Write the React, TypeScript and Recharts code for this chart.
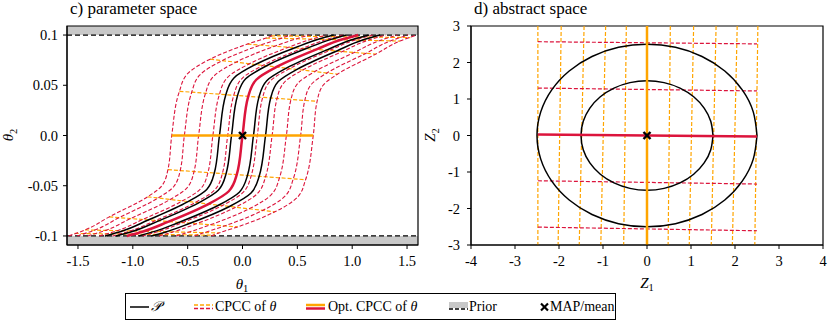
import React from 'react';
import { ComposedChart, Line, Scatter, XAxis, YAxis, ReferenceArea, ReferenceLine } from 'recharts';

type Pt = [number, number];

const RED = '#dc143c';
const ORANGE = '#ffa500';
const FONT = "'Liberation Serif', 'DejaVu Serif', serif";

// ---- c) parameter space ----
const thetaXTicks = [-1.5, -1, -0.5, 0, 0.5, 1, 1.5];
const thetaYTicks = [-0.1, -0.05, 0, 0.05, 0.1];

// CPCC of theta (red dashed), bottom to top
const cpccTheta: Pt[][] = [
  [[-1.585, -0.1], [-1.435, -0.094], [-1.215, -0.081], [-0.865, -0.061], [-0.735, -0.05], [-0.68, -0.034], [-0.645, 0], [-0.575, 0.044], [-0.505, 0.061], [-0.295, 0.076], [0.045, 0.091], [0.215, 0.097], [0.285, 0.1]],
  [[-1.508, -0.1], [-1.352, -0.0943], [-1.127, -0.0819], [-0.771, -0.0623], [-0.628, -0.051], [-0.568, -0.0349], [-0.53, 0], [-0.463, 0.0431], [-0.391, 0.06], [-0.182, 0.0747], [0.166, 0.0901], [0.35, 0.0967], [0.44, 0.1]],
  [[-1.412, -0.1], [-1.253, -0.0946], [-1.024, -0.0829], [-0.663, -0.0639], [-0.506, -0.0521], [-0.442, -0.0359], [-0.4, 0], [-0.337, 0.0421], [-0.263, 0.0589], [-0.056, 0.0732], [0.298, 0.0891], [0.496, 0.0964], [0.606, 0.1]],
  [[-1.306, -0.1], [-1.146, -0.0949], [-0.916, -0.0839], [-0.553, -0.0654], [-0.383, -0.0532], [-0.315, -0.0369], [-0.27, 0], [-0.21, 0.0411], [-0.136, 0.0578], [0.067, 0.0716], [0.426, 0.0881], [0.636, 0.0961], [0.762, 0.1]],
  [[-1.186, -0.1], [-1.029, -0.0952], [-0.8, -0.085], [-0.435, -0.0669], [-0.254, -0.0543], [-0.184, -0.038], [-0.135, 0], [-0.079, 0.0401], [-0.005, 0.0567], [0.192, 0.0701], [0.555, 0.0871], [0.774, 0.0958], [0.914, 0.1]],
  [[-0.914, -0.1], [-0.774, -0.0958], [-0.555, -0.0871], [-0.192, -0.0701], [0.005, -0.0567], [0.079, -0.0401], [0.135, 0], [0.184, 0.038], [0.254, 0.0543], [0.435, 0.0669], [0.8, 0.085], [1.029, 0.0952], [1.186, 0.1]],
  [[-0.762, -0.1], [-0.636, -0.0961], [-0.426, -0.0881], [-0.067, -0.0716], [0.136, -0.0578], [0.21, -0.0411], [0.27, 0], [0.315, 0.0369], [0.383, 0.0532], [0.553, 0.0654], [0.916, 0.0839], [1.146, 0.0949], [1.306, 0.1]],
  [[-0.606, -0.1], [-0.496, -0.0964], [-0.298, -0.0891], [0.056, -0.0732], [0.263, -0.0589], [0.337, -0.0421], [0.4, 0], [0.442, 0.0359], [0.506, 0.0521], [0.663, 0.0639], [1.024, 0.0829], [1.253, 0.0946], [1.412, 0.1]],
  [[-0.44, -0.1], [-0.35, -0.0967], [-0.166, -0.0901], [0.182, -0.0747], [0.391, -0.06], [0.463, -0.0431], [0.53, 0], [0.568, 0.0349], [0.628, 0.051], [0.771, 0.0623], [1.127, 0.0819], [1.352, 0.0943], [1.508, 0.1]],
  [[-0.285, -0.1], [-0.215, -0.097], [-0.045, -0.091], [0.295, -0.076], [0.505, -0.061], [0.575, -0.044], [0.645, 0], [0.68, 0.034], [0.735, 0.05], [0.865, 0.061], [1.215, 0.081], [1.435, 0.094], [1.585, 0.1]],
];

// posterior contours P (black)
const pTheta: Pt[][] = [
  [[-1.254, -0.1], [-1.095, -0.095], [-0.865, -0.0844], [-0.501, -0.0661], [-0.326, -0.0537], [-0.257, -0.0374], [-0.21, 0], [-0.152, 0.0406], [-0.078, 0.0573], [0.123, 0.0709], [0.484, 0.0876], [0.698, 0.096], [0.831, 0.1]],
  [[-1.153, -0.1], [-0.998, -0.0953], [-0.769, -0.0852], [-0.404, -0.0673], [-0.221, -0.0546], [-0.15, -0.0382], [-0.1, 0], [-0.045, 0.0398], [0.029, 0.0564], [0.224, 0.0697], [0.588, 0.0868], [0.809, 0.0957], [0.951, 0.1]],
  [[-0.951, -0.1], [-0.809, -0.0957], [-0.588, -0.0868], [-0.224, -0.0697], [-0.029, -0.0564], [0.045, -0.0398], [0.1, 0], [0.15, 0.0382], [0.221, 0.0546], [0.404, 0.0673], [0.769, 0.0852], [0.998, 0.0953], [1.153, 0.1]],
  [[-0.831, -0.1], [-0.698, -0.096], [-0.484, -0.0876], [-0.123, -0.0709], [0.078, -0.0573], [0.152, -0.0406], [0.21, 0], [0.257, 0.0374], [0.326, 0.0537], [0.501, 0.0661], [0.865, 0.0844], [1.095, 0.095], [1.254, 0.1]],
];

// optimal CPCC (red solid)
const optTheta: Pt[] = [
  [-1.055, -0.1], [-0.905, -0.0955], [-0.68, -0.086], [-0.315, -0.0685], [-0.125, -0.0555], [-0.0525, -0.039], [0, 0],
  [0.0525, 0.039], [0.125, 0.0555], [0.315, 0.0685], [0.68, 0.086], [0.905, 0.0955], [1.055, 0.1],
];

// CPCC levels across (orange dashed)
const levelsTheta: Pt[][] = [
  [[-0.575, 0.044], [0.68, 0.034]],
  [[-0.295, 0.076], [0.865, 0.061]],
  [[0.045, 0.091], [1.215, 0.081]],
  [[0.215, 0.097], [1.435, 0.094]],
  [[0.26, 0.0992], [1.53, 0.0975]],
  [[-0.68, -0.034], [0.575, -0.044]],
  [[-0.865, -0.061], [0.295, -0.076]],
  [[-1.215, -0.081], [-0.045, -0.091]],
  [[-1.435, -0.094], [-0.215, -0.097]],
  [[-1.53, -0.0975], [-0.26, -0.0992]],
];
const optLevelTheta: Pt[] = [[-0.645, 0], [0.645, 0]];

// ---- d) abstract space ----
const zXTicks = [-4, -3, -2, -1, 0, 1, 2, 3, 4];
const zYTicks = [-3, -2, -1, 0, 1, 2, 3];

// orange dashed Z1 = const (top, bottom)
const z1Lines: Pt[][] = [
  [[-2.48, 3], [-2.48, -3]],
  [[-1.95, 3], [-2.02, -3]],
  [[-1.43, 3], [-1.54, -3]],
  [[-0.94, 3], [-1.05, -3]],
  [[-0.47, 3], [-0.53, -3]],
  [[0.53, 3], [0.48, -3]],
  [[1.06, 3], [0.96, -3]],
  [[1.57, 3], [1.46, -3]],
  [[2.05, 3], [1.94, -3]],
  [[2.52, 3], [2.45, -3]],
];
// red dashed Z2 = const (left, right)
const z2Lines: Pt[][] = [
  [[-2.48, 2.57], [2.5, 2.51]],
  [[-2.48, 1.3], [2.5, 1.22]],
  [[-2.48, -1.24], [2.5, -1.33]],
  [[-2.48, -2.51], [2.5, -2.61]],
];
const optZ1: Pt[] = [[0, 3], [0, -3]];
const optZ2: Pt[] = [[-2.48, 0.03], [2.5, -0.03]];

const circleOuter: Pt[] = [
  [2.5, 0], [2.415, 0.647], [2.165, 1.25], [1.768, 1.768], [1.25, 2.165], [0.647, 2.415], [0, 2.5],
  [-0.647, 2.415], [-1.25, 2.165], [-1.768, 1.768], [-2.165, 1.25], [-2.415, 0.647], [-2.5, 0],
  [-2.415, -0.647], [-2.165, -1.25], [-1.768, -1.768], [-1.25, -2.165], [-0.647, -2.415], [0, -2.5],
  [0.647, -2.415], [1.25, -2.165], [1.768, -1.768], [2.165, -1.25], [2.415, -0.647], [2.5, 0],
];
const circleInner: Pt[] = [
  [1.5, 0], [1.449, 0.388], [1.299, 0.75], [1.061, 1.061], [0.75, 1.299], [0.388, 1.449], [0, 1.5],
  [-0.388, 1.449], [-0.75, 1.299], [-1.061, 1.061], [-1.299, 0.75], [-1.449, 0.388], [-1.5, 0],
  [-1.449, -0.388], [-1.299, -0.75], [-1.061, -1.061], [-0.75, -1.299], [-0.388, -1.449], [0, -1.5],
  [0.388, -1.449], [0.75, -1.299], [1.061, -1.061], [1.299, -0.75], [1.449, -0.388], [1.5, 0],
];
const mapPoint: Pt = [0, 0];

const rows = (pts: Pt[]) => pts.map(([x, y]) => ({ x, y }));

// tick text drawn by hand so the serif font is sure to apply
const makeTick = (fmt: (v: number) => string, axis: 'x' | 'y') => (props: any) => {
  const { x, y, payload } = props;
  if (axis === 'x') {
    return (
      <text x={x} y={y + 15} textAnchor="middle" fontSize={14.5} fontFamily={FONT} fill="#000">
        {fmt(payload.value)}
      </text>
    );
  }
  return (
    <text x={x} y={y + 5} textAnchor="end" fontSize={14.5} fontFamily={FONT} fill="#000">
      {fmt(payload.value)}
    </text>
  );
};

const Cross = (props: any) => {
  const { cx, cy } = props;
  const s = 3.5;
  return (
    <g>
      <line x1={cx - s} y1={cy - s} x2={cx + s} y2={cy + s} stroke="#000" strokeWidth={2.4} />
      <line x1={cx - s} y1={cy + s} x2={cx + s} y2={cy - s} stroke="#000" strokeWidth={2.4} />
    </g>
  );
};

function series(pts: Pt[], key: string, stroke: string, width: number, dash?: string, type: any = 'linear') {
  return (
    <Line
      key={key}
      data={rows(pts)}
      dataKey="y"
      type={type}
      stroke={stroke}
      strokeWidth={width}
      strokeDasharray={dash}
      dot={false}
      activeDot={false}
      isAnimationActive={false}
      legendType="none"
    />
  );
}

const fmtThetaX = (v: number) => v.toFixed(1);
const fmtThetaY = (v: number) => (v === 0 ? '0.0' : Math.abs(v) > 0.07 ? v.toFixed(1) : v.toFixed(2));
const fmtInt = (v: number) => String(v);

function ParameterSpace() {
  return (
    <ComposedChart width={420} height={300} margin={{ top: 26, right: 2, bottom: 25, left: 0 }}>
      <XAxis type="number" dataKey="x" domain={[-1.6, 1.6]} ticks={thetaXTicks}
        allowDataOverflow interval={0} tick={makeTick(fmtThetaX, 'x')} tickSize={4} tickMargin={2} stroke="#000" height={30} />
      <YAxis type="number" domain={[-0.109, 0.109]} ticks={thetaYTicks}
        allowDataOverflow interval={0} tick={makeTick(fmtThetaY, 'y')} tickSize={4} tickMargin={5} stroke="#000" width={67} />
      <ReferenceArea x1={-1.6} x2={1.6} y1={0.1} y2={0.109} fill="#c8c8c8" fillOpacity={1} stroke="none" />
      <ReferenceArea x1={-1.6} x2={1.6} y1={-0.109} y2={-0.1} fill="#c8c8c8" fillOpacity={1} stroke="none" />
      <ReferenceLine y={0.1} stroke="#000" strokeWidth={1.3} strokeDasharray="5 3" />
      <ReferenceLine y={-0.1} stroke="#000" strokeWidth={1.3} strokeDasharray="5 3" />
      {levelsTheta.map((p, i) => series(p, 'lv' + i, ORANGE, 1.2, '4 2'))}
      {cpccTheta.map((p, i) => series(p, 'cp' + i, RED, 1.1, '4 2', 'monotoneY'))}
      {pTheta.map((p, i) => series(p, 'p' + i, '#000', 1.5, undefined, 'monotoneY'))}
      {series(optLevelTheta, 'optlv', ORANGE, 2.5)}
      {series(optTheta, 'opt', RED, 2.5, undefined, 'monotoneY')}
      <Scatter data={rows([mapPoint])} dataKey="y" shape={Cross} isAnimationActive={false} legendType="none" />
      <ReferenceArea x1={-1.6} x2={1.6} y1={-0.109} y2={0.109} fill="none" stroke="#000" strokeWidth={1.2} />
    </ComposedChart>
  );
}

function AbstractSpace() {
  return (
    <ComposedChart width={411} height={300} margin={{ top: 26, right: 8, bottom: 25, left: 0 }}>
      <XAxis type="number" dataKey="x" domain={[-4, 4]} ticks={zXTicks} allowDataOverflow interval={0}
        tick={makeTick(fmtInt, 'x')} tickSize={4} tickMargin={2} stroke="#000" height={30} />
      <YAxis type="number" domain={[-3, 3]} ticks={zYTicks} allowDataOverflow interval={0}
        tick={makeTick(fmtInt, 'y')} tickSize={4} tickMargin={7} stroke="#000" width={51} />
      {z1Lines.map((p, i) => series(p, 'z1' + i, ORANGE, 1.2, '4 2'))}
      {z2Lines.map((p, i) => series(p, 'z2' + i, RED, 1.2, '4 2'))}
      {series(circleOuter, 'co', '#000', 1.5, undefined, 'natural')}
      {series(circleInner, 'ci', '#000', 1.5, undefined, 'natural')}
      {series(optZ1, 'oz1', ORANGE, 2.5)}
      {series(optZ2, 'oz2', RED, 2.5)}
      <Scatter data={rows([mapPoint])} dataKey="y" shape={Cross} isAnimationActive={false} legendType="none" />
      <ReferenceArea x1={-4} x2={4} y1={-3} y2={3} fill="none" stroke="#000" strokeWidth={1.2} />
    </ComposedChart>
  );
}

const sub = { fontSize: '0.7em', verticalAlign: '-0.3em', fontStyle: 'normal' } as const;

function Sym({ base, idx }: { base: string; idx: string }) {
  return (
    <span>
      <i>{base}</i>
      <span style={sub}>{idx}</span>
    </span>
  );
}

function LegendIcon({ kind }: { kind: string }) {
  return (
    <svg width={19} height={14} style={{ position: 'absolute', top: 0 }}>
      {kind === 'p' && <line x1={0} y1={7} x2={19} y2={7} stroke="#000" strokeWidth={1.5} />}
      {kind === 'cpcc' && (
        <g>
          <line x1={0} y1={5} x2={19} y2={5} stroke={ORANGE} strokeWidth={1.3} strokeDasharray="4 2" />
          <line x1={0} y1={8.5} x2={19} y2={8.5} stroke={RED} strokeWidth={1.3} strokeDasharray="4 2" />
        </g>
      )}
      {kind === 'opt' && (
        <g>
          <line x1={0} y1={5} x2={19} y2={5} stroke={ORANGE} strokeWidth={2.5} />
          <line x1={0} y1={8.5} x2={19} y2={8.5} stroke={RED} strokeWidth={2.5} />
        </g>
      )}
      {kind === 'prior' && (
        <g>
          <rect x={0} y={2} width={19} height={6} fill="#c8c8c8" />
          <line x1={0} y1={9} x2={19} y2={9} stroke="#000" strokeWidth={1.3} strokeDasharray="4 2" />
        </g>
      )}
      {kind === 'map' && (
        <g>
          <line x1={1} y1={3.5} x2={8} y2={10.5} stroke="#000" strokeWidth={2.2} />
          <line x1={1} y1={10.5} x2={8} y2={3.5} stroke="#000" strokeWidth={2.2} />
        </g>
      )}
    </svg>
  );
}

const legendItems = [
  { kind: 'p', iconX: 4, textX: 25, label: <i>𝒫</i> },
  { kind: 'cpcc', iconX: 68, textX: 89, label: <span>CPCC of <i>θ</i></span> },
  { kind: 'opt', iconX: 180, textX: 202, label: <span>Opt. CPCC of <i>θ</i></span> },
  { kind: 'prior', iconX: 323, textX: 343, label: <span>Prior</span> },
  { kind: 'map', iconX: 414, textX: 424, label: <span>MAP/mean</span> },
];

export default function App() {
  const abs = (left: number, top: number): React.CSSProperties => ({ position: 'absolute', left, top });
  return (
    <div style={{ position: 'absolute', left: 0, top: 0, width: 831, height: 323, background: '#fff', fontFamily: FONT, color: '#000' }}>
      <div style={abs(0, 0)}><ParameterSpace /></div>
      <div style={abs(420, 0)}><AbstractSpace /></div>

      <div style={{ ...abs(70, 0), fontSize: 17, lineHeight: '17px', whiteSpace: 'nowrap' }}>c) parameter space</div>
      <div style={{ ...abs(474, 0), fontSize: 17, lineHeight: '17px', whiteSpace: 'nowrap' }}>d) abstract space</div>

      <div style={{ ...abs(242, 277), fontSize: 15, lineHeight: '15px', transform: 'translateX(-50%)' }}><Sym base="θ" idx="1" /></div>
      <div style={{ ...abs(647, 276), fontSize: 15, lineHeight: '15px', transform: 'translateX(-50%)' }}><Sym base="Z" idx="1" /></div>
      <div style={{ ...abs(11, 135), fontSize: 15, lineHeight: '15px', transform: 'translate(-50%, -50%) rotate(-90deg)', whiteSpace: 'nowrap' }}><Sym base="θ" idx="2" /></div>
      <div style={{ ...abs(433, 135), fontSize: 15, lineHeight: '15px', transform: 'translate(-50%, -50%) rotate(-90deg)', whiteSpace: 'nowrap' }}><Sym base="Z" idx="2" /></div>

      <div style={{ ...abs(125, 293), width: 491, height: 27, boxSizing: 'border-box', border: '1px solid #000', background: '#fff' }}>
        {legendItems.map((it) => (
          <React.Fragment key={it.kind}>
            <div style={{ position: 'absolute', left: it.iconX, top: 6, width: 19, height: 14 }}>
              <LegendIcon kind={it.kind} />
            </div>
            <div style={{ position: 'absolute', left: it.textX, top: 5, fontSize: 14, lineHeight: '15px', whiteSpace: 'nowrap' }}>
              {it.label}
            </div>
          </React.Fragment>
        ))}
      </div>
    </div>
  );
}
